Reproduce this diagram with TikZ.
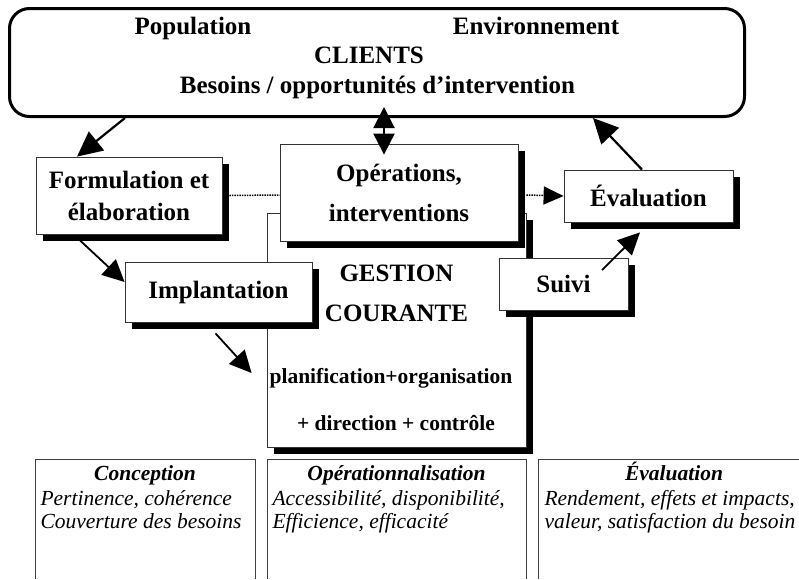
\documentclass[tikz,border=0pt]{standalone}
\usepackage{fontspec}
\setmainfont{Liberation Serif}
\usetikzlibrary{arrows.meta,shadows}

\tikzset{
    box/.style={draw=black!80, line width=0.8pt, fill=white, inner sep=0pt,
        drop shadow={shadow xshift=7pt, shadow yshift=-7pt, fill=black, opacity=1},
        align=center, font=\bfseries\fontsize{25}{32}\selectfont},
    bigtext/.style={anchor=base, font=\bfseries\fontsize{25}{30}\selectfont},
    midtext/.style={anchor=base, font=\bfseries\fontsize{21.5}{26}\selectfont},
    headtext/.style={anchor=base, font=\bfseries\itshape\fontsize{21.5}{24}\selectfont},
    bodytext/.style={anchor=base west, font=\itshape\fontsize{21.5}{24}\selectfont},
    frame/.style={draw=black!75, line width=0.8pt},
    bigarrow/.style={line width=2.2pt, -{Triangle[length=25pt,width=24pt]}},
    arrow/.style={line width=1.8pt, -{Triangle[length=22pt,width=21pt]}},
    twoarrow/.style={line width=2pt, {Triangle[length=21pt,width=21pt]}-{Triangle[length=21pt,width=21pt]}},
    dotline/.style={line width=1.5pt, densely dotted},
}

\begin{document}
\begin{tikzpicture}[x=1pt, y=-1pt]
    \useasboundingbox (0,0) rectangle (799,579);

    % clients
    \node[draw, line width=3pt, rounded corners=20pt, minimum width=735pt, minimum height=108pt] (clients) at (377,62.5) {};
    \node[bigtext] (pop) at (193,34) {Population};
    \node[bigtext] (env) at (536,34) {Environnement};
    \node[bigtext] (cli) at (369,63) {CLIENTS};
    \node[bigtext] (bes) at (377.5,93) {Besoins / opportunités d’intervention};

    % gestion courante
    \node[box, minimum width=259pt, minimum height=234pt] (gest) at (396.5,330) {};
    \node[bigtext] (ges1) at (396.5,281) {GESTION};
    \node[bigtext] (ges2) at (396.5,321) {COURANTE};
    \node[midtext] (ges3) at (391,383) {planification+organisation};
    \node[midtext] (ges4) at (396,430) {+ direction + contrôle};

    % les etapes
    \node[box, minimum width=186pt, minimum height=77pt] (form) at (129,195.5) {Formulation et\\élaboration};
    \node[box, minimum width=238pt, minimum height=97pt, font=\bfseries\fontsize{25}{40}\selectfont] (ops) at (399,192.5) {Opérations,\\interventions};
    \node[box, minimum width=187pt, minimum height=60pt] (impl) at (218.5,292) {Implantation};
    \node[box, minimum width=169pt, minimum height=52pt] (eval) at (648.5,196) {Évaluation};
    \node[box, minimum width=129pt, minimum height=52pt] (suivi) at (563.5,284) {Suivi};

    % fleches
    \path[bigarrow] ([xshift=-252pt]clients.south) edge ([xshift=-52pt]form.north);
    \path[twoarrow] ([xshift=7pt,yshift=11pt]clients.south) edge ([xshift=-15pt,yshift=-11pt]ops.north);
    \path[bigarrow] ([xshift=-6.5pt]eval.north) edge ([xshift=216pt]clients.south);
    \path[arrow] ([xshift=-49pt,yshift=-6pt]form.south) edge ([yshift=10pt]impl.west);
    \path[arrow] ([xshift=-3pt,yshift=-11pt]impl.south) edge ([xshift=-15pt,yshift=-43pt]gest.west);
    \path[arrow] ([xshift=38.5pt,yshift=14pt]suivi.center) edge ([xshift=-8.5pt,yshift=-10pt]eval.south);
    \path[dotline] ([xshift=7pt]form.east) edge ([yshift=-2.5pt]ops.west);
    \path[dotline, -{Triangle[length=20pt,width=18pt]}] ([xshift=8pt,yshift=-2.5pt]ops.east) edge (eval.west);

    % criteres
    \draw[frame] (35,579) -- (35,459) -- (255,459) -- (255,579);
    \draw[frame] (267,579) -- (267,459) -- (526,459) -- (526,579);
    \draw[frame] (538,579) -- (538,459) -- (810,459);
    \node[headtext] (conc) at (145,480) {Conception};
    \node[bodytext] (conc1) at (37,505) {Pertinence, cohérence};
    \node[bodytext] (conc2) at (37,528) {Couverture des besoins};
    \node[headtext] (oper) at (396.5,480) {Opérationnalisation};
    \node[bodytext] (oper1) at (269,505) {Accessibilité, disponibilité,};
    \node[bodytext] (oper2) at (269,528) {Efficience, efficacité};
    \node[headtext] (eva) at (674,480) {Évaluation};
    \node[bodytext] (eva1) at (541,505) {Rendement, effets et impacts,};
    \node[bodytext] (eva2) at (541,528) {valeur, satisfaction du besoin};
\end{tikzpicture}
\end{document}
